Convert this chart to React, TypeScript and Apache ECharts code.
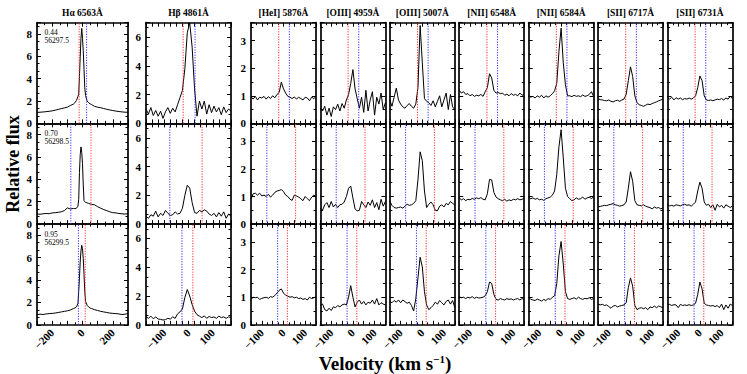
import React, { useEffect, useRef } from "react";
import * as echarts from "echarts";

// ---------- data ----------
const TITLES = ["Hα 6563Å", "Hβ 4861Å", "[HeI] 5876Å", "[OIII] 4959Å", "[OIII] 5007Å", "[NII] 6548Å", "[NII] 6584Å", "[SII] 6717Å", "[SII] 6731Å"];
const PHASES = ["0.44", "0.70", "0.95"];
const DATES = ["56297.5", "56298.5", "56299.5"];
const RED_LINE = [-22, 56, 18];
const BLUE_LINE = [27, -77, -27];

const HA_V = [-300, -280, -260, -240, -220, -200, -180, -160, -140, -120, -100, -80, -60, -50, -40, -30, -25, -20, -15, -10, -5, 0, 5, 10, 15, 20, 30, 40, 50, 60, 80, 100, 120, 140, 160, 180, 200, 220, 240, 260, 280, 300];
const HB_V = [-175, -165, -155, -145, -135, -125, -115, -105, -95, -85, -75, -65, -55, -45, -35, -25, -15, -5, 5, 15, 25, 35, 45, 55, 65, 75, 85, 95, 105, 115, 125, 135, 145, 155, 165, 175];
const NARROW_V = [-150, -140, -130, -120, -110, -100, -90, -80, -70, -60, -50, -40, -30, -20, -10, 0, 10, 20, 30, 40, 50, 60, 70, 80, 90, 100, 110, 120, 130, 140, 150];

// row 1 (phase 0.44)
const HA_1 = [0.98, 1.0, 1.02, 1.05, 1.08, 1.12, 1.18, 1.25, 1.32, 1.38, 1.45, 1.6, 1.72, 1.85, 2.05, 2.4, 2.6, 4.2, 6.0, 7.6, 8.5, 7.6, 6.5, 4.8, 3.2, 2.5, 2.0, 1.85, 1.75, 1.68, 1.52, 1.45, 1.4, 1.33, 1.26, 1.2, 1.15, 1.1, 1.06, 1.03, 1.0, 1.0];
const HB_1 = [1.0, 0.65, 1.1, 0.55, 0.9, 0.5, 0.85, 0.35, 0.8, 1.1, 0.7, 1.05, 0.8, 1.3, 1.8, 2.3, 3.8, 6.3, 7.0, 5.3, 2.4, 0.5, 1.55, 1.0, 1.55, 0.65, 1.3, 0.75, 1.2, 0.8, 1.1, 0.6, 1.15, 0.75, 1.0, 0.85];
const HEI_1 = [0.97, 0.88, 0.98, 0.85, 0.95, 0.92, 0.98, 0.88, 0.97, 0.9, 1.0, 0.93, 1.05, 1.12, 1.5, 1.25, 1.1, 0.98, 0.95, 0.9, 0.96, 0.88, 0.95, 0.9, 0.85, 0.95, 0.92, 0.82, 0.95, 0.9, 0.97];
const OIII4959_1 = [0.55, 0.45, 0.62, 0.3, 0.55, 0.25, 0.6, 0.5, 0.7, 0.45, 0.72, 0.55, 0.85, 1.05, 1.45, 1.95, 1.25, 0.9, 0.55, 0.95, 0.4, 1.2, 0.45, 0.85, 1.15, 0.3, 0.95, 0.7, 1.1, 0.5, 0.75];
const OIII5007_1 = [0.85, 0.62, 0.95, 1.28, 0.85, 0.7, 0.6, 0.55, 0.65, 0.72, 0.62, 0.55, 0.7, 1.3, 3.55, 2.2, 0.9, 0.8, 0.75, 0.65, 0.82, 0.6, 0.8, 1.0, 0.6, 0.85, 1.1, 0.5, 1.05, 0.6, 0.5];
const NII6548_1 = [1.2, 1.1, 1.15, 1.05, 1.08, 1.0, 1.05, 0.98, 1.02, 1.0, 1.05, 0.98, 1.15, 1.3, 1.8, 1.65, 1.2, 1.1, 1.12, 1.08, 1.1, 1.02, 1.06, 1.0, 1.08, 1.02, 1.05, 1.0, 1.1, 1.02, 1.05];
const NII6584_1 = [1.02, 0.95, 0.98, 0.92, 1.0, 0.95, 1.02, 0.92, 1.0, 0.95, 1.0, 1.08, 1.18, 1.45, 2.6, 3.45, 2.2, 1.4, 1.0, 1.0, 0.97, 1.02, 0.98, 1.0, 0.97, 1.03, 0.98, 1.0, 1.05, 1.15, 0.98];
const SII6717_1 = [0.9, 0.86, 0.85, 0.83, 0.82, 0.85, 0.8, 0.78, 0.82, 0.84, 0.8, 0.85, 0.88, 1.05, 1.55, 2.05, 1.7, 1.0, 0.75, 0.68, 0.65, 0.62, 0.66, 0.7, 0.68, 0.72, 0.75, 0.78, 0.82, 0.85, 0.88];
const SII6731_1 = [0.95, 0.88, 0.95, 0.85, 0.93, 0.88, 0.92, 0.86, 0.9, 0.88, 0.92, 0.88, 0.92, 1.0, 1.3, 1.72, 1.55, 1.0, 0.85, 0.83, 0.85, 0.82, 0.85, 0.88, 0.86, 0.9, 0.85, 0.92, 0.88, 0.98, 0.9];

// row 2 (phase 0.70)
const HA_2 = [0.9, 0.88, 0.92, 0.95, 0.93, 1.0, 1.02, 1.05, 1.1, 1.2, 1.45, 1.35, 1.4, 1.38, 1.42, 1.6, 2.2, 4.6, 6.2, 6.9, 6.4, 5.4, 3.5, 2.1, 2.0, 1.95, 1.9, 1.85, 1.8, 1.77, 1.72, 1.55, 1.42, 1.3, 1.2, 1.1, 1.02, 1.0, 0.95, 0.92, 0.9, 0.92];
const HB_2 = [0.55, 0.4, 0.65, 0.55, 0.9, 0.5, 0.75, 0.6, 0.95, 0.75, 0.6, 0.65, 0.85, 0.7, 0.75, 1.1, 2.0, 2.7, 2.5, 1.5, 0.8, 0.75, 0.95, 0.85, 1.0, 0.9, 0.7, 0.6, 0.75, 0.5, 0.8, 0.55, 0.85, 0.4, 0.7, 0.55];
const HEI_2 = [0.9, 1.1, 1.12, 1.05, 1.12, 1.02, 1.05, 1.0, 1.08, 0.98, 1.05, 1.15, 1.2, 1.22, 1.25, 1.18, 1.05, 1.0, 0.9, 0.86, 1.05, 1.02, 0.98, 0.92, 0.85, 1.0, 0.92, 0.85, 0.98, 1.05, 1.0];
const OIII4959_2 = [0.58, 0.5, 0.7, 0.78, 0.6, 0.82, 0.62, 0.72, 0.6, 0.7, 0.72, 0.8, 1.0, 1.3, 1.38, 0.95, 0.55, 0.48, 0.5, 0.82, 0.7, 0.6, 0.8, 0.68, 0.88, 0.6, 0.78, 0.52, 0.9, 0.65, 0.82];
const OIII5007_2 = [0.83, 0.68, 0.6, 0.58, 0.6, 0.62, 0.58, 0.65, 0.72, 0.68, 0.7, 0.75, 0.85, 1.6, 2.62, 2.3, 1.2, 0.6, 0.72, 0.8, 0.7, 0.5, 0.48, 0.65, 0.7, 0.62, 0.75, 0.7, 0.82, 0.75, 0.7];
const NII6548_2 = [0.95, 0.88, 0.92, 0.85, 0.9, 0.88, 0.93, 0.9, 0.95, 0.92, 0.96, 0.9, 0.88, 1.1, 1.62, 1.6, 1.15, 0.98, 0.92, 0.88, 0.85, 0.9, 0.83, 0.88, 0.85, 0.9, 0.88, 0.92, 0.88, 0.9, 0.93];
const NII6584_2 = [0.95, 0.92, 0.95, 0.9, 0.93, 0.88, 0.9, 0.86, 0.92, 0.95, 0.98, 1.05, 1.2, 1.8, 2.8, 3.42, 2.4, 1.3, 1.0, 0.92, 0.85, 0.88, 0.95, 0.9, 0.92, 0.98, 0.9, 0.95, 0.97, 0.93, 0.98];
const SII6717_2 = [0.62, 0.64, 0.66, 0.68, 0.67, 0.7, 0.72, 0.74, 0.7, 0.68, 0.65, 0.67, 0.7, 0.8, 1.3, 1.9, 1.55, 0.85, 0.7, 0.68, 0.66, 0.7, 0.65, 0.62, 0.6, 0.55, 0.62, 0.58, 0.6, 0.55, 0.6];
const SII6731_2 = [0.7, 0.66, 0.68, 0.65, 0.7, 0.68, 0.66, 0.7, 0.72, 0.68, 0.7, 0.65, 0.72, 0.8, 1.2, 1.52, 1.3, 0.8, 0.68, 0.72, 0.6, 0.7, 0.5, 0.72, 0.62, 0.68, 0.58, 0.7, 0.65, 0.6, 0.66];

// row 3 (phase 0.95)
const HA_3 = [0.9, 0.95, 0.92, 0.97, 1.0, 1.02, 1.05, 1.1, 1.15, 1.2, 1.25, 1.32, 1.45, 1.5, 1.6, 1.9, 3.0, 4.2, 5.7, 6.6, 7.1, 6.8, 5.9, 4.5, 3.0, 2.1, 1.75, 1.6, 1.5, 1.45, 1.35, 1.28, 1.2, 1.15, 1.1, 1.05, 1.02, 1.0, 0.97, 0.92, 0.95, 1.0];
const HB_3 = [0.57, 0.45, 0.6, 0.42, 0.55, 0.4, 0.38, 0.33, 0.36, 0.45, 0.4, 0.55, 0.45, 0.76, 0.9, 1.1, 1.9, 2.45, 2.0, 1.4, 0.95, 0.7, 0.6, 0.5, 0.62, 0.45, 0.58, 0.5, 0.55, 0.45, 0.6, 0.5, 0.55, 0.45, 0.55, 0.5];
const HEI_3 = [0.92, 1.0, 0.98, 1.0, 0.92, 0.96, 0.98, 1.0, 0.96, 1.02, 1.0, 1.06, 1.15, 1.25, 1.3, 1.15, 1.07, 1.04, 1.0, 1.02, 0.98, 1.0, 0.95, 0.97, 0.92, 0.95, 0.9, 1.0, 0.95, 0.98, 1.02];
const OIII4959_3 = [0.72, 0.75, 0.55, 0.5, 0.6, 0.52, 0.65, 0.62, 0.7, 0.65, 0.72, 0.75, 0.72, 1.0, 1.42, 1.0, 0.65, 0.82, 0.9, 0.75, 0.85, 0.72, 0.82, 0.78, 0.9, 0.75, 0.95, 0.72, 0.8, 0.75, 0.72];
const OIII5007_3 = [0.84, 0.8, 0.88, 0.82, 0.9, 0.8, 0.9, 0.84, 0.78, 0.82, 0.7, 0.5, 0.95, 1.7, 2.45, 2.1, 1.2, 0.72, 0.55, 0.62, 0.7, 0.82, 0.75, 0.88, 0.8, 0.72, 0.85, 0.9, 0.75, 0.88, 0.62];
const NII6548_3 = [1.02, 0.98, 1.0, 0.95, 1.0, 0.97, 1.02, 0.96, 1.0, 0.97, 0.98, 1.0, 1.05, 1.2, 1.55, 1.5, 1.1, 0.92, 0.9, 0.95, 0.92, 0.9, 0.95, 0.92, 0.94, 0.9, 0.93, 0.95, 0.9, 0.95, 0.92];
const NII6584_3 = [1.0, 0.92, 0.9, 0.88, 0.93, 0.9, 0.86, 0.92, 0.88, 0.95, 0.92, 1.0, 1.05, 1.5, 2.5, 3.02, 2.2, 1.2, 0.95, 0.92, 0.95, 0.98, 0.93, 1.0, 0.95, 0.92, 0.96, 0.94, 0.98, 0.92, 0.95];
const SII6717_3 = [0.75, 0.72, 0.74, 0.7, 0.72, 0.66, 0.6, 0.68, 0.7, 0.65, 0.68, 0.7, 0.72, 0.8, 1.35, 1.7, 1.4, 0.7, 0.55, 0.6, 0.62, 0.58, 0.62, 0.55, 0.65, 0.62, 0.68, 0.62, 0.68, 0.65, 0.62];
const SII6731_3 = [0.72, 0.74, 0.7, 0.73, 0.72, 0.62, 0.74, 0.7, 0.72, 0.7, 0.73, 0.7, 0.72, 0.78, 1.1, 1.55, 1.3, 0.78, 0.72, 0.7, 0.68, 0.7, 0.66, 0.7, 0.62, 0.75, 0.55, 0.72, 0.6, 0.75, 0.7];

const ROWS = [
  [HA_1, HB_1, HEI_1, OIII4959_1, OIII5007_1, NII6548_1, NII6584_1, SII6717_1, SII6731_1],
  [HA_2, HB_2, HEI_2, OIII4959_2, OIII5007_2, NII6548_2, NII6584_2, SII6717_2, SII6731_2],
  [HA_3, HB_3, HEI_3, OIII4959_3, OIII5007_3, NII6548_3, NII6584_3, SII6717_3, SII6731_3],
];

// ---------- layout ----------
const FONT = '"Liberation Serif", "Times New Roman", serif';
const COL_LEFT = [37, 146, 251, 320.4, 389.8, 459.2, 528.6, 598, 667.4];
const COL_W = [91, 85, 65, 65, 65, 65, 65, 65, 65];
const ROW_TOP = [22.7, 123.4, 224.1];
const ROW_H = 100.7;
const RED = "#ff3030";
const BLUE = "#3030ff";

type Spec = { xmin: number; xmax: number; xint: number; xlab: number; xminor: number; ymax: number; yint: number; ysplit: number };
const spec = (c: number): Spec =>
  c === 0
    ? { xmin: -300, xmax: 300, xint: 100, xlab: 200, xminor: 2, ymax: 9, yint: 2, ysplit: 3 }
    : c === 1
    ? { xmin: -175, xmax: 175, xint: 25, xlab: 100, xminor: 0, ymax: 7, yint: 2, ysplit: 3 }
    : { xmin: -150, xmax: 150, xint: 50, xlab: 100, xminor: 2, ymax: 3.65, yint: 1, ysplit: 2 };

const velocityOf = (c: number) => (c === 0 ? HA_V : c === 1 ? HB_V : NARROW_V);

function buildOption() {
  const grid: any[] = [];
  const xAxis: any[] = [];
  const yAxis: any[] = [];
  const series: any[] = [];
  const axisLine = { show: true, onZero: false, lineStyle: { color: "#000", width: 1.7 } };
  const labelBase = { color: "#000", fontFamily: FONT, fontWeight: "bold", fontSize: 11 };

  for (let r = 0; r < 3; r++) {
    for (let c = 0; c < 9; c++) {
      const i = r * 9 + c;
      const s = spec(c);
      grid.push({ left: COL_LEFT[c], top: ROW_TOP[r], width: COL_W[c], height: ROW_H, containLabel: false });
      const xFmt = (v: number) => (Math.abs(v % s.xlab) < 1e-6 ? (v < 0 ? "−" + Math.abs(v) : String(Math.abs(v))) : "");
      const yFmt = (v: number) => {
        if (Math.abs(v - Math.round(v)) > 1e-6) return "";
        const n = Math.round(v);
        if (s.yint === 2 && n % 2 !== 0) return "";
        return String(n);
      };
      const xCommon = {
        gridIndex: i,
        type: "value",
        min: s.xmin,
        max: s.xmax,
        interval: s.xint,
        axisLine,
        splitLine: { show: false },
        axisTick: { show: true, inside: true, length: 4, lineStyle: { color: "#000", width: 1 } },
        minorTick: { show: s.xminor > 0, splitNumber: s.xminor || 2, length: 2.5, lineStyle: { color: "#000", width: 1 } },
      };
      xAxis.push({
        ...xCommon,
        position: "bottom",
        axisLabel: { show: r === 2, rotate: 45, margin: 6, formatter: xFmt, ...labelBase },
      });
      xAxis.push({ ...xCommon, position: "top", axisLabel: { show: false } });
      const yCommon = {
        gridIndex: i,
        type: "value",
        min: 0,
        max: s.ymax,
        interval: s.yint,
        axisLine,
        splitLine: { show: false },
        axisTick: { show: true, inside: true, length: 4, lineStyle: { color: "#000", width: 1 } },
        minorTick: { show: true, splitNumber: s.ysplit, length: 2.5, lineStyle: { color: "#000", width: 1 } },
      };
      yAxis.push({
        ...yCommon,
        position: "left",
        axisLabel: { show: c <= 2, margin: 5, formatter: yFmt, ...labelBase },
      });
      yAxis.push({ ...yCommon, position: "right", axisLabel: { show: false } });

      const V = velocityOf(c);
      const F = ROWS[r][c];
      series.push({
        type: "line",
        xAxisIndex: 2 * i,
        yAxisIndex: 2 * i,
        data: V.map((v, k) => [v, F[k]]),
        symbol: "none",
        showSymbol: false,
        clip: true,
        silent: true,
        z: 2,
        lineStyle: { color: "#000", width: 1 },
        itemStyle: { color: "#000" },
      });
      [
        { v: RED_LINE[r], col: RED },
        { v: BLUE_LINE[r], col: BLUE },
      ].forEach((m) => {
        series.push({
          type: "line",
          xAxisIndex: 2 * i,
          yAxisIndex: 2 * i,
          data: [
            [m.v, 0],
            [m.v, s.ymax],
          ],
          symbol: "none",
          showSymbol: false,
          silent: true,
          z: 3,
          lineStyle: { color: m.col, type: [1.2, 1.4], width: 1 },
          itemStyle: { color: m.col },
        });
      });
    }
  }

  const graphic: any[] = [];
  TITLES.forEach((t, c) => {
    graphic.push({
      type: "text",
      x: COL_LEFT[c] + COL_W[c] / 2,
      y: 13,
      style: { text: t, fill: "#000", fontFamily: FONT, fontWeight: "bold", fontSize: 9.5, align: "center", verticalAlign: "middle" },
    });
  });
  for (let r = 0; r < 3; r++) {
    [PHASES[r], DATES[r]].forEach((t, k) => {
      graphic.push({
        type: "text",
        x: 44.5,
        y: ROW_TOP[r] + 6 + k * 8,
        style: { text: t, fill: "#000", fontFamily: FONT, fontWeight: "normal", fontSize: 7.5, align: "left", verticalAlign: "top" },
      });
    });
  }
  graphic.push({
    type: "text",
    x: 13,
    y: 164,
    rotation: Math.PI / 2,
    style: { text: "Relative flux", fill: "#000", fontFamily: FONT, fontWeight: "bold", fontSize: 18, align: "center", verticalAlign: "middle" },
  });
  graphic.push({
    type: "text",
    x: 385,
    y: 363,
    style: {
      text: "{a|Velocity (km s}{b|−1}{a|)}",
      align: "center",
      verticalAlign: "middle",
      rich: {
        a: { fill: "#000", fontFamily: FONT, fontWeight: "bold", fontSize: 19 },
        b: { fill: "#000", fontFamily: FONT, fontWeight: "bold", fontSize: 11, verticalAlign: "top", padding: [0, 0, 8, 0] },
      },
    },
  });

  return {
    animation: false,
    backgroundColor: "#fff",
    textStyle: { fontFamily: FONT },
    grid,
    xAxis,
    yAxis,
    series,
    graphic,
  };
}

export default function App() {
  const ref = useRef<HTMLDivElement | null>(null);
  useEffect(() => {
    if (!ref.current) return;
    const chart = echarts.init(ref.current, undefined, { renderer: "svg" });
    chart.setOption(buildOption() as any);
    return () => chart.dispose();
  }, []);
  return <div ref={ref} style={{ position: "absolute", left: 0, top: 0, width: 747, height: 374, background: "#fff" }} />;
}
